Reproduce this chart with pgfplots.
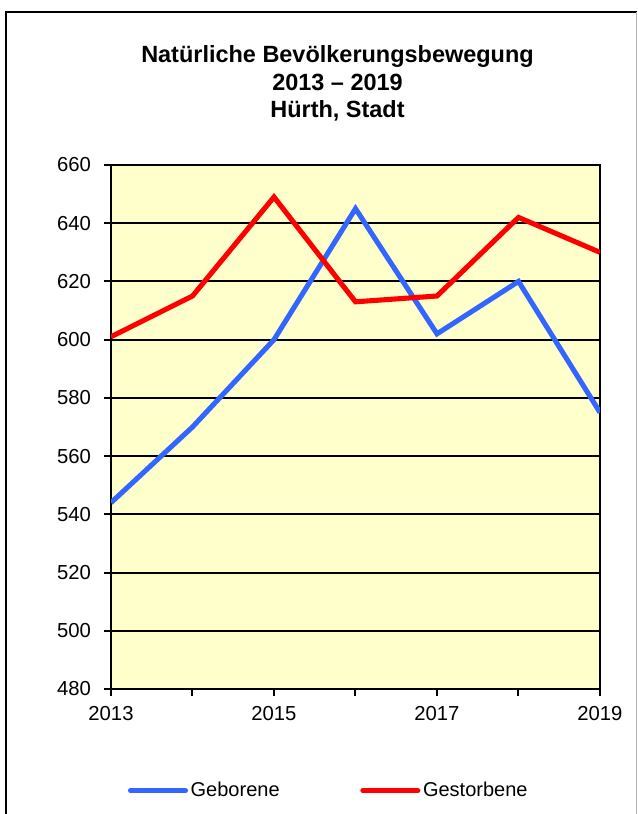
\documentclass[border=0pt]{standalone}
\usepackage{fontspec}
\setmainfont{Liberation Sans}
\usepackage{pgfplots}
\pgfplotsset{compat=1.18}
\definecolor{gebCol}{HTML}{3366FF}
\definecolor{gesCol}{HTML}{FF0000}
\definecolor{bgCol}{HTML}{FFFFCC}

\begin{document}
\begin{tikzpicture}[x=0.75pt,y=0.75pt]
  \useasboundingbox (0,0) rectangle (638,814);
  % frame
  \draw[line width=1.5pt] (6,-10) -- (6,802) -- (637,802);
  \draw[black!30, line width=0.75pt] (636.5,802) -- (636.5,-10);
  % title (base = last line)
  \node[font=\fontsize{17.6}{20.4}\selectfont\bfseries, align=center, anchor=base]
    at (337.5,696.7) {Natürliche Bevölkerungsbewegung\\2013 – 2019\\Hürth, Stadt};
  \begin{axis}[
    at={(83.25pt,93.75pt)}, anchor=south west,
    scale only axis, width=366.75pt, height=393pt,
    xmin=2013, xmax=2019, ymin=480, ymax=660,
    xtick={2013,...,2019},
    xticklabels={2013,,2015,,2017,,2019},
    ytick={480,500,...,660},
    xtick pos=bottom, ytick pos=left,
    tick align=outside, major tick length=5.5pt,
    tick style={black, line width=1.5pt},
    axis line style={black, line width=1.5pt},
    ymajorgrids, major grid style={black, line width=1.5pt},
    axis background/.style={fill=bgCol},
    tick label style={font=\fontsize{15.2}{17}\selectfont},
    /pgf/number format/assume math mode=true,
    /pgf/number format/1000 sep={},
    xticklabel style={yshift=-4pt},
    yticklabel style={xshift=-6pt},
    legend style={at={(0.446,-0.194)}, anchor=center, draw=none, fill=none,
      font=\fontsize{15}{17}\selectfont, legend columns=2,
      /tikz/every even column/.append style={column sep=58.5pt}},
    legend image code/.code={\draw[#1, line cap=round] (0pt,0pt) -- (41.25pt,0pt);},
  ]
    \addplot[gebCol, line width=3.8pt] coordinates {
      (2013,544) (2014,570) (2015,600) (2016,645) (2017,602) (2018,620) (2019,575)};
    \addlegendentry{Geborene}
    \addplot[gesCol, line width=3.8pt] coordinates {
      (2013,601) (2014,615) (2015,649) (2016,613) (2017,615) (2018,642) (2019,630)};
    \addlegendentry{Gestorbene}
  \end{axis}
\end{tikzpicture}
\end{document}
